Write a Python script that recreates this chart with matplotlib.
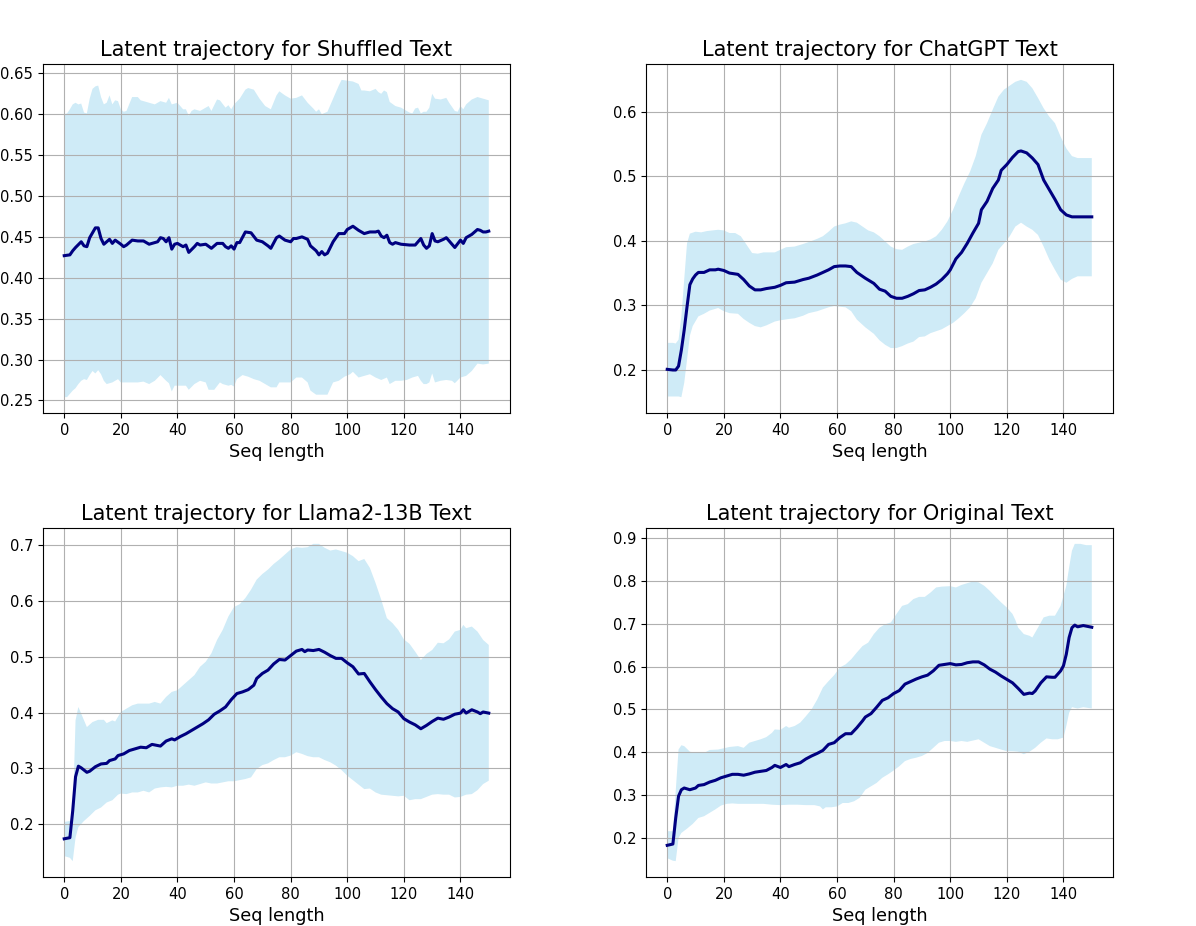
import numpy as np
import matplotlib
matplotlib.use("Agg")
import matplotlib.pyplot as plt

# ---- Shuffled text ----
shuf_mean_x = [0, 2, 3, 4, 6, 7, 8, 9, 11, 12, 13, 14, 16, 17, 18, 20, 21, 22, 24, 26, 28, 30, 32, 33, 34, 35, 36, 37, 38, 39,
               40, 42, 43, 44, 46, 47, 48, 50, 52, 54, 56, 57, 58, 59, 60, 61, 62, 64, 66, 68, 70, 72, 73, 75, 76, 78, 80, 81, 82, 84,
               86, 87, 89, 90, 91, 92, 93, 95, 97, 99, 100, 102, 104, 106, 108, 110, 111, 112, 113, 114, 115, 116, 117, 119, 122, 124,
               126, 127, 128, 129, 130, 131, 132, 134, 135, 137, 138, 140, 141, 142, 144, 146, 147, 148, 149, 150]
shuf_mean_y = [0.427, 0.428, 0.433, 0.437, 0.444, 0.439, 0.438, 0.449, 0.461, 0.461, 0.448, 0.441, 0.447, 0.442, 0.446, 0.441,
               0.438, 0.440, 0.446, 0.445, 0.445, 0.441, 0.443, 0.444, 0.449, 0.448, 0.444, 0.449, 0.435, 0.441, 0.442, 0.438,
               0.440, 0.431, 0.438, 0.442, 0.440, 0.441, 0.436, 0.442, 0.442, 0.438, 0.436, 0.439, 0.435, 0.443, 0.443, 0.456,
               0.455, 0.446, 0.444, 0.439, 0.436, 0.449, 0.451, 0.446, 0.444, 0.448, 0.448, 0.450, 0.447, 0.439, 0.433, 0.428,
               0.432, 0.428, 0.430, 0.444, 0.454, 0.454, 0.459, 0.463, 0.458, 0.454, 0.456, 0.456, 0.457, 0.451, 0.449, 0.452,
               0.443, 0.441, 0.443, 0.441, 0.440, 0.440, 0.448, 0.440, 0.436, 0.439, 0.454, 0.445, 0.444, 0.447, 0.449, 0.441,
               0.437, 0.446, 0.442, 0.449, 0.453, 0.459, 0.458, 0.456, 0.456, 0.457]
shuf_up_x = [0, 1, 2, 3, 4, 5, 6, 7, 8, 9, 10, 11, 12, 13, 14, 15, 16, 17, 18, 19, 20, 21, 22, 24, 26, 27, 28, 30, 32, 34, 36,
             37, 38, 40, 42, 43, 44, 45, 46, 48, 50, 51, 52, 54, 55, 57, 58, 59, 60, 62, 64, 65, 67, 69, 71, 73, 75, 76, 78, 80,
             82, 84, 86, 88, 89, 90, 91, 93, 95, 97, 98, 100, 102, 104, 105, 106, 108, 110, 111, 112, 113, 114, 115, 117, 119,
             121, 122, 123, 124, 125, 126, 127, 128, 129, 130, 131, 133, 135, 136, 138, 139, 140, 141, 142, 144, 146, 148, 150]
shuf_up_y = [0.600, 0.601, 0.606, 0.612, 0.614, 0.612, 0.613, 0.602, 0.601, 0.619, 0.631, 0.634, 0.635, 0.621, 0.612, 0.614,
             0.623, 0.612, 0.617, 0.616, 0.606, 0.603, 0.604, 0.621, 0.621, 0.617, 0.616, 0.614, 0.612, 0.616, 0.614, 0.620,
             0.612, 0.614, 0.606, 0.606, 0.598, 0.604, 0.606, 0.604, 0.608, 0.610, 0.604, 0.618, 0.617, 0.608, 0.611, 0.606,
             0.612, 0.619, 0.630, 0.632, 0.630, 0.619, 0.610, 0.606, 0.623, 0.628, 0.623, 0.619, 0.620, 0.623, 0.614, 0.607,
             0.603, 0.606, 0.600, 0.603, 0.619, 0.635, 0.642, 0.641, 0.640, 0.637, 0.629, 0.629, 0.628, 0.631, 0.627, 0.625,
             0.629, 0.627, 0.615, 0.610, 0.608, 0.604, 0.602, 0.601, 0.607, 0.608, 0.601, 0.603, 0.603, 0.608, 0.625, 0.619,
             0.618, 0.620, 0.614, 0.604, 0.603, 0.610, 0.606, 0.612, 0.618, 0.621, 0.619, 0.617]
shuf_lo_x = [0, 1, 2, 3, 4, 5, 6, 7, 8, 9, 10, 11, 12, 13, 14, 15, 17, 19, 20, 22, 24, 26, 28, 30, 32, 34, 36, 37, 38, 39, 41,
             43, 44, 46, 48, 50, 51, 53, 55, 56, 58, 59, 60, 61, 63, 65, 67, 69, 71, 73, 75, 76, 78, 80, 82, 84, 86, 87, 89, 91,
             93, 95, 97, 99, 101, 102, 104, 106, 108, 110, 112, 114, 115, 117, 119, 121, 123, 125, 126, 127, 128, 129, 130, 131,
             133, 135, 137, 138, 140, 142, 144, 146, 148, 150]
shuf_lo_y = [0.254, 0.254, 0.258, 0.262, 0.265, 0.270, 0.274, 0.276, 0.275, 0.281, 0.286, 0.283, 0.287, 0.282, 0.274, 0.270,
             0.272, 0.276, 0.272, 0.272, 0.272, 0.272, 0.273, 0.270, 0.274, 0.281, 0.274, 0.271, 0.261, 0.268, 0.268, 0.268,
             0.263, 0.270, 0.274, 0.272, 0.263, 0.263, 0.272, 0.270, 0.268, 0.269, 0.267, 0.276, 0.281, 0.279, 0.276, 0.274,
             0.270, 0.266, 0.266, 0.272, 0.272, 0.272, 0.278, 0.278, 0.272, 0.262, 0.257, 0.257, 0.257, 0.272, 0.274, 0.279,
             0.282, 0.285, 0.278, 0.280, 0.282, 0.278, 0.275, 0.278, 0.270, 0.274, 0.274, 0.275, 0.278, 0.280, 0.274, 0.270,
             0.270, 0.272, 0.283, 0.272, 0.274, 0.275, 0.274, 0.271, 0.278, 0.280, 0.286, 0.295, 0.294, 0.295]

# ---- ChatGPT text ----
gpt_mean_x = [0, 2, 3, 4, 5, 6, 7, 8, 9, 10, 11, 13, 15, 17, 18, 20, 22, 25, 27, 29, 31, 33, 35, 38, 40, 42, 45, 48, 50, 53,
              55, 57, 59, 61, 63, 65, 67, 70, 73, 75, 77, 79, 81, 83, 85, 87, 89, 91, 93, 95, 97, 99, 100, 102, 104, 106, 108,
              110, 111, 113, 115, 117, 118, 120, 122, 124, 125, 127, 129, 131, 133, 135, 137, 139, 141, 143, 146, 150]
gpt_mean_y = [0.201, 0.200, 0.200, 0.206, 0.231, 0.262, 0.298, 0.332, 0.341, 0.347, 0.351, 0.351, 0.355, 0.355, 0.356, 0.354,
              0.350, 0.348, 0.340, 0.330, 0.324, 0.324, 0.326, 0.328, 0.331, 0.335, 0.336, 0.340, 0.342, 0.347, 0.351, 0.355,
              0.360, 0.361, 0.361, 0.360, 0.351, 0.342, 0.334, 0.325, 0.322, 0.314, 0.311, 0.311, 0.314, 0.318, 0.323, 0.324,
              0.328, 0.333, 0.340, 0.349, 0.355, 0.372, 0.382, 0.396, 0.412, 0.427, 0.448, 0.461, 0.481, 0.494, 0.509, 0.518,
              0.529, 0.538, 0.539, 0.536, 0.528, 0.518, 0.494, 0.479, 0.464, 0.448, 0.440, 0.437, 0.437, 0.437]
gpt_up_x = [0, 2, 3, 4, 5, 6, 7, 8, 10, 12, 14, 16, 18, 20, 22, 24, 26, 28, 30, 32, 34, 36, 38, 40, 42, 45, 48, 50, 53, 55, 57,
            59, 61, 63, 65, 67, 69, 71, 73, 75, 77, 79, 81, 83, 85, 87, 89, 91, 93, 95, 97, 99, 101, 103, 105, 107, 109, 111, 113,
            115, 117, 119, 121, 123, 125, 127, 129, 131, 133, 135, 137, 139, 141, 143, 145, 150]
gpt_up_y = [0.242, 0.242, 0.241, 0.247, 0.283, 0.340, 0.396, 0.411, 0.414, 0.413, 0.415, 0.416, 0.417, 0.416, 0.412, 0.412,
            0.407, 0.394, 0.381, 0.380, 0.382, 0.382, 0.382, 0.386, 0.390, 0.391, 0.395, 0.398, 0.403, 0.407, 0.414, 0.422,
            0.425, 0.427, 0.430, 0.428, 0.422, 0.416, 0.413, 0.407, 0.399, 0.391, 0.387, 0.386, 0.391, 0.395, 0.397, 0.399,
            0.402, 0.407, 0.417, 0.430, 0.448, 0.469, 0.489, 0.507, 0.531, 0.564, 0.582, 0.603, 0.623, 0.634, 0.640, 0.646,
            0.649, 0.646, 0.636, 0.621, 0.605, 0.592, 0.582, 0.561, 0.543, 0.531, 0.528, 0.528]
gpt_lo_x = [0, 2, 4, 5, 6, 7, 8, 9, 11, 13, 15, 18, 20, 22, 25, 27, 29, 31, 33, 35, 38, 40, 43, 45, 48, 50, 53, 55, 57, 59, 61,
            63, 65, 67, 70, 73, 75, 77, 79, 81, 83, 85, 87, 89, 91, 93, 95, 97, 99, 101, 103, 105, 107, 109, 111, 113, 115, 117,
            119, 121, 123, 125, 127, 129, 131, 133, 135, 137, 139, 141, 143, 145, 150]
gpt_lo_y = [0.159, 0.159, 0.159, 0.158, 0.180, 0.216, 0.253, 0.268, 0.283, 0.287, 0.292, 0.296, 0.291, 0.288, 0.287, 0.279,
            0.273, 0.268, 0.266, 0.269, 0.275, 0.277, 0.279, 0.280, 0.284, 0.288, 0.291, 0.294, 0.297, 0.299, 0.298, 0.297,
            0.291, 0.278, 0.266, 0.256, 0.246, 0.239, 0.234, 0.234, 0.237, 0.241, 0.244, 0.251, 0.252, 0.257, 0.260, 0.263,
            0.268, 0.273, 0.280, 0.288, 0.297, 0.311, 0.335, 0.350, 0.365, 0.386, 0.396, 0.407, 0.422, 0.428, 0.422, 0.417,
            0.409, 0.391, 0.371, 0.355, 0.340, 0.335, 0.341, 0.345, 0.345]

# ---- Llama2-13B text ----
llama_mean_x = [0, 2, 3, 4, 5, 6, 8, 9, 11, 13, 15, 16, 18, 19, 21, 23, 25, 27, 29, 31, 33, 34, 36, 38, 39, 41, 43, 45, 47, 49,
                51, 53, 55, 57, 59, 61, 63, 65, 67, 68, 70, 72, 74, 76, 78, 80, 82, 84, 85, 86, 88, 90, 92, 94, 96, 98, 100, 102,
                104, 106, 108, 110, 112, 114, 116, 118, 120, 122, 124, 126, 128, 130, 132, 134, 136, 138, 140, 141, 142, 144,
                146, 147, 148, 150]
llama_mean_y = [0.174, 0.176, 0.224, 0.285, 0.304, 0.301, 0.293, 0.295, 0.303, 0.308, 0.309, 0.314, 0.317, 0.323, 0.326, 0.332,
                0.335, 0.338, 0.337, 0.343, 0.341, 0.340, 0.349, 0.353, 0.351, 0.357, 0.362, 0.368, 0.374, 0.380, 0.387, 0.397,
                0.403, 0.410, 0.423, 0.434, 0.437, 0.441, 0.449, 0.461, 0.470, 0.476, 0.487, 0.495, 0.494, 0.502, 0.510, 0.513,
                0.509, 0.512, 0.511, 0.513, 0.508, 0.502, 0.497, 0.497, 0.489, 0.482, 0.469, 0.470, 0.455, 0.441, 0.428, 0.416,
                0.407, 0.401, 0.389, 0.383, 0.378, 0.371, 0.377, 0.384, 0.390, 0.388, 0.392, 0.397, 0.399, 0.405, 0.399, 0.405,
                0.401, 0.398, 0.401, 0.399]
llama_up_x = [0, 2, 3, 4, 5, 6, 8, 10, 12, 14, 15, 17, 18, 20, 22, 24, 26, 28, 30, 32, 34, 36, 38, 40, 42, 44, 46, 48, 50, 52,
              54, 56, 58, 60, 62, 64, 66, 68, 70, 72, 74, 76, 78, 80, 82, 84, 86, 88, 90, 92, 94, 96, 98, 100, 102, 104, 106,
              108, 110, 112, 114, 116, 118, 120, 122, 124, 126, 128, 130, 132, 134, 136, 138, 140, 141, 142, 144, 146, 148, 150]
llama_up_y = [0.204, 0.206, 0.212, 0.386, 0.410, 0.398, 0.374, 0.383, 0.387, 0.387, 0.381, 0.386, 0.384, 0.401, 0.407, 0.413,
              0.416, 0.416, 0.416, 0.419, 0.416, 0.428, 0.437, 0.440, 0.449, 0.458, 0.467, 0.482, 0.491, 0.506, 0.530, 0.548,
              0.572, 0.589, 0.594, 0.605, 0.620, 0.638, 0.648, 0.656, 0.666, 0.674, 0.683, 0.692, 0.696, 0.695, 0.696, 0.702,
              0.702, 0.695, 0.690, 0.692, 0.689, 0.686, 0.680, 0.671, 0.675, 0.659, 0.632, 0.602, 0.569, 0.560, 0.548, 0.531,
              0.523, 0.509, 0.494, 0.505, 0.512, 0.525, 0.524, 0.531, 0.545, 0.548, 0.557, 0.551, 0.554, 0.545, 0.530, 0.521]
llama_lo_x = [0, 2, 3, 4, 5, 7, 9, 11, 13, 15, 17, 19, 20, 22, 24, 26, 28, 30, 32, 34, 36, 38, 40, 42, 44, 46, 48, 50, 52, 54,
              56, 58, 60, 62, 64, 66, 68, 70, 72, 74, 76, 78, 80, 82, 84, 86, 88, 90, 92, 94, 96, 98, 100, 102, 104, 106, 108,
              110, 112, 114, 116, 118, 120, 122, 124, 126, 128, 130, 132, 134, 136, 138, 140, 142, 144, 146, 148, 150]
llama_lo_y = [0.143, 0.140, 0.134, 0.176, 0.195, 0.206, 0.215, 0.225, 0.230, 0.239, 0.243, 0.253, 0.255, 0.254, 0.257, 0.257,
              0.260, 0.257, 0.264, 0.266, 0.267, 0.266, 0.269, 0.269, 0.271, 0.269, 0.272, 0.275, 0.273, 0.273, 0.275, 0.277,
              0.277, 0.279, 0.281, 0.284, 0.299, 0.306, 0.309, 0.315, 0.320, 0.320, 0.323, 0.329, 0.326, 0.322, 0.320, 0.320,
              0.315, 0.311, 0.305, 0.297, 0.287, 0.279, 0.271, 0.263, 0.264, 0.257, 0.253, 0.252, 0.251, 0.250, 0.251, 0.243,
              0.245, 0.245, 0.249, 0.253, 0.254, 0.253, 0.253, 0.248, 0.249, 0.253, 0.254, 0.261, 0.272, 0.278]

# ---- Original text ----
orig_mean_x = [0, 2, 3, 4, 5, 6, 8, 10, 11, 13, 15, 17, 19, 21, 23, 25, 27, 29, 31, 33, 35, 37, 38, 40, 42, 43, 45, 47, 49, 51,
               53, 55, 57, 59, 61, 63, 65, 67, 69, 70, 72, 74, 76, 78, 80, 82, 84, 86, 88, 90, 92, 94, 96, 98, 100, 102, 104,
               106, 108, 110, 112, 114, 116, 118, 120, 122, 124, 126, 128, 129, 130, 132, 134, 136, 137, 139, 140, 141, 142,
               143, 144, 145, 147, 150]
orig_mean_y = [0.182, 0.185, 0.246, 0.297, 0.312, 0.316, 0.312, 0.316, 0.322, 0.324, 0.330, 0.334, 0.340, 0.344, 0.348, 0.348,
               0.346, 0.349, 0.353, 0.355, 0.357, 0.364, 0.369, 0.364, 0.371, 0.366, 0.371, 0.375, 0.384, 0.391, 0.397, 0.404,
               0.418, 0.422, 0.434, 0.443, 0.443, 0.457, 0.473, 0.482, 0.490, 0.505, 0.521, 0.527, 0.537, 0.544, 0.559, 0.565,
               0.571, 0.576, 0.580, 0.590, 0.603, 0.605, 0.607, 0.604, 0.605, 0.609, 0.611, 0.611, 0.604, 0.594, 0.587, 0.578,
               0.570, 0.562, 0.549, 0.535, 0.538, 0.537, 0.543, 0.562, 0.576, 0.575, 0.575, 0.590, 0.602, 0.629, 0.668, 0.691,
               0.697, 0.693, 0.696, 0.692]
orig_up_x = [0, 2, 3, 4, 5, 6, 8, 10, 13, 15, 18, 20, 22, 25, 27, 29, 31, 33, 35, 37, 38, 40, 42, 43, 45, 47, 49, 51, 53, 55,
             57, 59, 61, 63, 65, 67, 69, 71, 73, 75, 77, 79, 81, 83, 85, 87, 89, 91, 93, 95, 97, 100, 102, 104, 106, 108, 110,
             112, 114, 116, 118, 120, 122, 123, 124, 126, 128, 129, 131, 133, 135, 137, 139, 141, 142, 143, 144, 146, 148, 150]
orig_up_y = [0.215, 0.215, 0.309, 0.406, 0.416, 0.414, 0.401, 0.398, 0.398, 0.405, 0.406, 0.409, 0.412, 0.414, 0.410, 0.422,
             0.426, 0.430, 0.435, 0.445, 0.453, 0.452, 0.461, 0.457, 0.461, 0.469, 0.484, 0.500, 0.523, 0.551, 0.566, 0.580,
             0.598, 0.605, 0.617, 0.633, 0.648, 0.656, 0.676, 0.691, 0.699, 0.703, 0.723, 0.742, 0.746, 0.758, 0.763, 0.763,
             0.773, 0.785, 0.787, 0.788, 0.785, 0.791, 0.795, 0.799, 0.797, 0.789, 0.777, 0.763, 0.750, 0.738, 0.723, 0.709,
             0.691, 0.676, 0.672, 0.668, 0.691, 0.715, 0.719, 0.719, 0.742, 0.789, 0.832, 0.871, 0.887, 0.887, 0.884, 0.884]
orig_lo_x = [0, 2, 3, 4, 5, 7, 9, 11, 13, 15, 17, 19, 21, 23, 25, 28, 31, 34, 37, 40, 43, 46, 49, 52, 54, 55, 56, 58, 60, 62,
             64, 66, 68, 70, 72, 74, 76, 78, 80, 82, 84, 86, 88, 90, 92, 94, 96, 98, 100, 102, 104, 106, 108, 110, 112, 114, 116,
             118, 120, 122, 124, 126, 128, 130, 132, 134, 136, 138, 140, 141, 142, 143, 145, 147, 150]
orig_lo_y = [0.152, 0.146, 0.145, 0.199, 0.211, 0.221, 0.232, 0.246, 0.250, 0.258, 0.266, 0.275, 0.279, 0.280, 0.279, 0.279,
             0.279, 0.279, 0.277, 0.276, 0.277, 0.277, 0.276, 0.276, 0.273, 0.266, 0.271, 0.271, 0.273, 0.281, 0.281, 0.285,
             0.293, 0.312, 0.320, 0.328, 0.340, 0.348, 0.357, 0.367, 0.379, 0.384, 0.387, 0.391, 0.398, 0.410, 0.422, 0.426,
             0.426, 0.424, 0.426, 0.424, 0.427, 0.430, 0.422, 0.414, 0.410, 0.406, 0.402, 0.402, 0.401, 0.395, 0.401, 0.410,
             0.422, 0.432, 0.430, 0.430, 0.434, 0.461, 0.492, 0.505, 0.502, 0.505, 0.502]

titles = ["Latent trajectory for Shuffled Text", "Latent trajectory for ChatGPT Text",
          "Latent trajectory for Llama2-13B Text", "Latent trajectory for Original Text"]

panels = [
    (shuf_mean_x, shuf_mean_y, shuf_up_x, shuf_up_y, shuf_lo_x, shuf_lo_y),
    (gpt_mean_x, gpt_mean_y, gpt_up_x, gpt_up_y, gpt_lo_x, gpt_lo_y),
    (llama_mean_x, llama_mean_y, llama_up_x, llama_up_y, llama_lo_x, llama_lo_y),
    (orig_mean_x, orig_mean_y, orig_up_x, orig_up_y, orig_lo_x, orig_lo_y),
]

W, H = 1196, 926
fig = plt.figure(figsize=(W / 100, H / 100), dpi=100)

# axes boxes in pixels: left, top, right, bottom
boxes = [(43, 64, 510, 413), (646, 64, 1113, 413),
         (43, 528, 510, 877), (646, 528, 1113, 877)]

for (l, t, r, b), title, (mx, my, ux, uy, lx, ly) in zip(boxes, titles, panels):
    ax = fig.add_axes([l / W, 1 - b / H, (r - l) / W, (b - t) / H])
    # band: upper edge then lower edge reversed
    px = np.concatenate([ux, lx[::-1]])
    py = np.concatenate([uy, ly[::-1]])
    ax.fill(px, py, color='skyblue', alpha=0.4, linewidth=0)
    ax.plot(mx, my, color='navy', linewidth=2.2)
    ax.set_title(title, fontsize=15)
    ax.set_xlabel("Seq length", fontsize=12.7)
    ax.tick_params(labelsize=10.6)
    ax.set_xticks([0, 20, 40, 60, 80, 100, 120, 140])
    ax.grid(True)

fig.savefig("out.png", dpi=100)
